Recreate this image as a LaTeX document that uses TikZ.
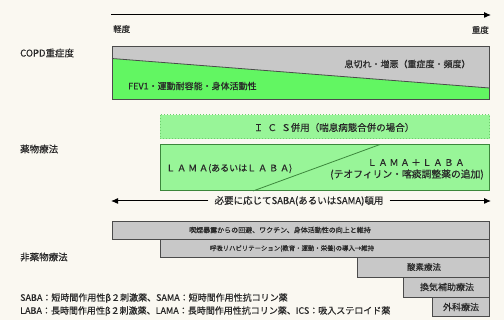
\documentclass[tikz,border=0pt]{standalone}
\usepackage{fontspec}
\setmainfont{Noto Sans CJK JP}[FakeBold=0.35]
\newfontfamily\spaced{Noto Sans CJK JP}[FakeBold=0.35,LetterSpace=22]
\newfontfamily\wspaced{Noto Sans CJK JP}[FakeBold=0.35,LetterSpace=45]
\usetikzlibrary{arrows.meta}
\definecolor{bgc}{RGB}{250,248,241}
\definecolor{txtc}{RGB}{40,40,40}
\definecolor{brightg}{RGB}{98,246,98}
\definecolor{lightg}{RGB}{152,245,152}
\definecolor{dotg}{RGB}{110,205,110}
\definecolor{darkg}{RGB}{60,135,60}
\definecolor{grayf}{RGB}{200,200,200}
\definecolor{grayd}{RGB}{75,75,75}
\begin{document}
\begin{tikzpicture}[x=1pt,y=-1pt,
  lbl/.style={text=txtc, inner sep=0pt, font=\fontsize{9.5}{10}\selectfont},
  mid/.style={text=txtc, inner sep=0pt, font=\fontsize{9}{10}\selectfont},
  small/.style={text=txtc, inner sep=0pt, font=\fontsize{8.5}{9}\selectfont},
  graybox/.style={draw=grayd, fill=grayf, line width=0.8pt},
  arr/.style={line width=1pt, draw=black}]
\fill[bgc] (0,0) rectangle (504,320);
\useasboundingbox (0,0) rectangle (504,320);
% severity axis
\coordinate (axL) at (111,15);
\coordinate (axR) at (491,15);
\draw[arr, -{Latex[length=7pt,width=6pt]}] (axL) -- (axR);
\node[small, anchor=west] (mild) at (113,29) {軽度};
\node[small, anchor=east] (severe) at (489,30) {重度};
% COPD severity
\node[lbl, anchor=west] (copdl) at (20,53) {COPD重症度};
\fill[grayf] (112,46.5) rectangle (489.5,99.5);
\fill[brightg] (112,58.5) -- (489.5,88) -- (489.5,99.5) -- (112,99.5) -- cycle;
\draw[grayd, line width=0.8pt] (112,58.5) -- (489.5,88);
\draw[grayd, line width=0.9pt] (112,46.5) rectangle (489.5,99.5);
\node[mid] (dysp) at (407.5,64) {息切れ・増悪（重症度・頻度）};
\node[mid, anchor=west] (fev) at (128,86) {FEV1・運動耐容能・身体活動性};
% drug therapy
\node[lbl, anchor=west] (drugl) at (20,149) {薬物療法};
\draw[dotg, fill=lightg, line width=1pt, dotted] (160,115) rectangle (489.5,139);
\node[text=txtc, inner sep=0pt, font=\fontsize{9.5}{10}\selectfont] (ics) at (334,127.5) {{\wspaced ＩＣＳ}併用（喘息病態合併の場合）};
\fill[lightg] (160,144.5) rectangle (489.5,191);
\draw[darkg, line width=0.8pt] (253,191) -- (380,144.5);
\draw[darkg, line width=1pt] (160,144.5) rectangle (489.5,191);
\node[mid, anchor=west] (lama) at (166,168.5) {{\spaced ＬＡＭＡ}(あるいは{\spaced ＬＡＢＡ})};
\node[mid] (lamalaba) at (416,162.5) {{\spaced ＬＡＭＡ＋ＬＡＢＡ}};
\node[text=txtc, inner sep=0pt, font=\fontsize{9.8}{10}\selectfont] (theo) at (407,174.5) {(テオフィリン・喀痰調整薬の追加)};
% as needed
\coordinate (asL) at (111,201);
\coordinate (asR) at (491,201);
\node[text=txtc, inner sep=0pt, font=\fontsize{9.5}{10}\selectfont, fill=bgc, inner xsep=6pt] (asneed) at (299,201) {必要に応じてSABA(あるいはSAMA)頓用};
\draw[arr, -{Latex[length=7pt,width=6pt]}] (asneed.west) -- (asL);
\draw[arr, -{Latex[length=7pt,width=6pt]}] (asneed.east) -- (asR);
% non-drug
\node[lbl, anchor=west] (nondrugl) at (20,257) {非薬物療法};
\draw[graybox] (112,221) rectangle (489.5,239.5);
\node[text=txtc, inner sep=0pt, font=\fontsize{7}{8}\selectfont] (nb1) at (280,230) {喫煙暴露からの回避、ワクチン、身体活動性の向上と維持};
\draw[graybox] (160,239.5) rectangle (489.5,257.5);
\node[text=txtc, inner sep=0pt, font=\fontsize{6.4}{7}\selectfont] (nb2) at (292,248.5) {呼吸リハビリテーション(教育・運動・栄養)の導入→維持};
\draw[graybox] (357,257.5) rectangle (489.5,277);
\node[small] (nb3) at (424,267) {酸素療法};
\draw[graybox] (403,277) rectangle (489.5,297);
\node[mid] (nb4) at (447,287) {換気補助療法};
\draw[graybox] (432,297) rectangle (489.5,316.5);
\node[mid] (nb5) at (461,307) {外科療法};
% footnotes
\node[mid, anchor=west] (fn1) at (20,298) {SABA：短時間作用性β２刺激薬、SAMA：短時間作用性抗コリン薬};
\node[mid, anchor=west] (fn2) at (20,311) {LABA：長時間作用性β２刺激薬、LAMA：長時間作用性抗コリン薬、ICS：吸入ステロイド薬};
\end{tikzpicture}
\end{document}
